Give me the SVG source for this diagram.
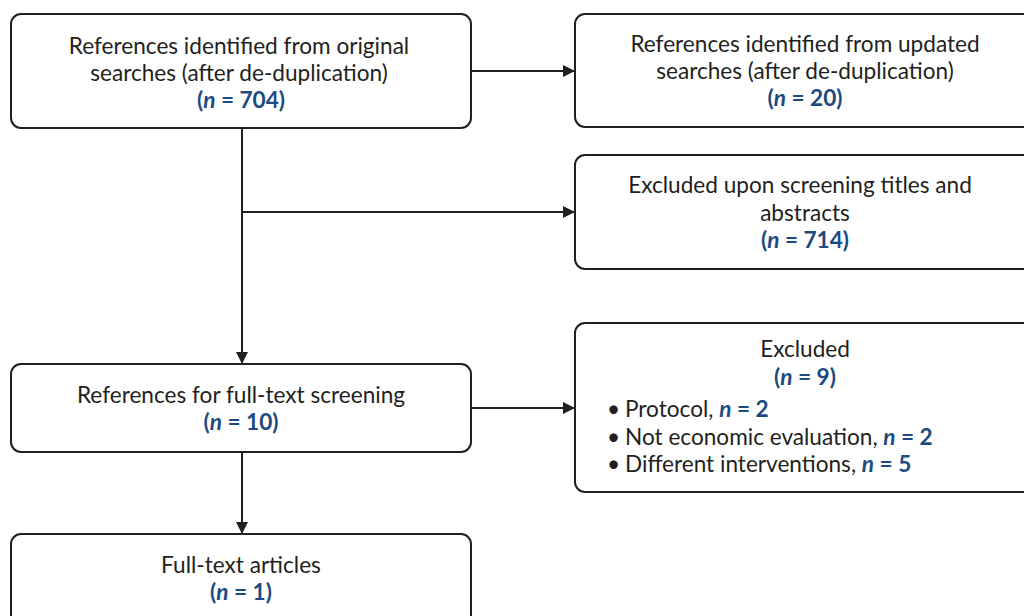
<svg xmlns="http://www.w3.org/2000/svg" width="1024" height="616" viewBox="0 0 1024 616">
<style>
.box{fill:#fff;stroke:#231f20;stroke-width:2}
.t{font-family:Lato,"Liberation Sans",sans-serif;font-size:22.6px;fill:#231f20}
.c{text-anchor:middle}
.n{fill:#1d4a80;font-weight:bold}
.i{font-style:italic}
.ln{stroke:#231f20;stroke-width:2;fill:none}
</style>
<defs>
<marker id="ah" viewBox="0 0 10 10" refX="10" refY="5" markerWidth="6" markerHeight="6" orient="auto" markerUnits="strokeWidth">
<path d="M0,0 L10,5 L0,10 z" fill="#231f20"/>
</marker>
</defs>
<rect width="1024" height="616" fill="#fff"/>
<g id="connectors">
<line class="ln" x1="471" y1="71" x2="575" y2="71" marker-end="url(#ah)"/>
<line class="ln" x1="242" y1="128" x2="242" y2="364" marker-end="url(#ah)"/>
<line class="ln" x1="242" y1="212" x2="575" y2="212" marker-end="url(#ah)"/>
<line class="ln" x1="471" y1="408" x2="575" y2="408" marker-end="url(#ah)"/>
<line class="ln" x1="242" y1="452" x2="242" y2="534" marker-end="url(#ah)"/>
</g>
<g id="n1">
<rect class="box" x="11" y="14" width="460" height="114" rx="10"/>
<text class="t c" x="239" y="54">References identified from original</text>
<text class="t c" x="239" y="81">searches (after de-duplication)</text>
<text class="t c n" x="241" y="108">(<tspan class="i">n</tspan> = 704)</text>
</g>
<g id="n2">
<rect class="box" x="575" y="14" width="460" height="113" rx="10"/>
<text class="t c" x="805" y="52">References identified from updated</text>
<text class="t c" x="805" y="79">searches (after de-duplication)</text>
<text class="t c n" x="805" y="106">(<tspan class="i">n</tspan> = 20)</text>
</g>
<g id="n3">
<rect class="box" x="575" y="155" width="460" height="114" rx="10"/>
<text class="t c" x="800" y="193">Excluded upon screening titles and</text>
<text class="t c" x="805" y="221">abstracts</text>
<text class="t c n" x="805" y="248">(<tspan class="i">n</tspan> = 714)</text>
</g>
<g id="n4">
<rect class="box" x="575" y="323" width="460" height="169" rx="10"/>
<text class="t c" x="805" y="357">Excluded</text>
<text class="t c n" x="805" y="385">(<tspan class="i">n</tspan> = 9)</text>
<text class="t" x="607" y="417">•</text>
<text class="t" x="625" y="417">Protocol, <tspan class="n i">n</tspan><tspan class="n"> = 2</tspan></text>
<text class="t" x="607" y="445">•</text>
<text class="t" x="625" y="445">Not economic evaluation, <tspan class="n i">n</tspan><tspan class="n"> = 2</tspan></text>
<text class="t" x="607" y="472">•</text>
<text class="t" x="625" y="472">Different interventions, <tspan class="n i">n</tspan><tspan class="n"> = 5</tspan></text>
</g>
<g id="n5">
<rect class="box" x="11" y="364" width="460" height="88" rx="10"/>
<text class="t c" x="241" y="403">References for full-text screening</text>
<text class="t c n" x="241" y="430">(<tspan class="i">n</tspan> = 10)</text>
</g>
<g id="n6">
<rect class="box" x="11" y="534" width="460" height="100" rx="10"/>
<text class="t c" x="241" y="573">Full-text articles</text>
<text class="t c n" x="241" y="600">(<tspan class="i">n</tspan> = 1)</text>
</g>
</svg>
